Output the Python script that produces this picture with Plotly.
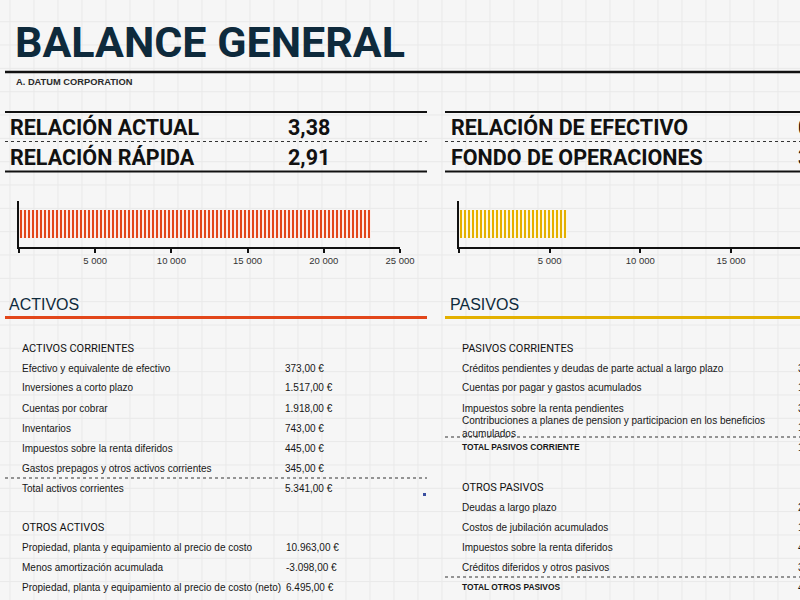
import plotly.graph_objects as go

W, H = 800, 600

titulo = "BALANCE GENERAL"
empresa = "A. DATUM CORPORATION"

ratios_izq = ["RELACIÓN ACTUAL", "RELACIÓN RÁPIDA"]
ratios_izq_valores = ["3,38", "2,91"]
ratios_der = ["RELACIÓN DE EFECTIVO", "FONDO DE OPERACIONES"]
ratios_der_valores = ["0,07", "3.955,00 €"]

grafico_categorias = ["Total activos", "Total pasivos"]
grafico_valores = [23100, 5940]
tick_valores = [0, 5000, 10000, 15000, 20000, 25000]
tick_textos = ["", "5 000", "10 000", "15 000", "20 000", "25 000"]

activos_corrientes = [
    "Efectivo y equivalente de efectivo",
    "Inversiones a corto plazo",
    "Cuentas por cobrar",
    "Inventarios",
    "Impuestos sobre la renta diferidos",
    "Gastos prepagos y otros activos corrientes",
]
activos_corrientes_valores = [373, 1517, 1918, 743, 445, 345]
total_activos_corrientes = 5341

otros_activos = [
    "Propiedad, planta y equipamiento al precio de costo",
    "Menos amortización acumulada",
    "Propiedad, planta y equipamiento al precio de costo (neto)",
]
otros_activos_valores = [10963, -3098, 6495]

pasivos_corrientes = [
    "Créditos pendientes y deudas de parte actual a largo plazo",
    "Cuentas por pagar y gastos acumulados",
    "Impuestos sobre la renta pendientes",
    "Contribuciones a planes de pension y participacion en los beneficios<br>acumulados",
]
pasivos_corrientes_valores = [3456, 1897, 3412, 1532]
total_pasivos_corrientes = 10297

otros_pasivos = [
    "Deudas a largo plazo",
    "Costos de jubilación acumulados",
    "Impuestos sobre la renta diferidos",
    "Créditos diferidos y otros pasivos",
]
otros_pasivos_valores = [2976, 198, 478, 398]
total_otros_pasivos = 4050

ROJO = "#e2461a"
AMARILLO = "#e3b000"
NAVY = "#0e2a3c"
TXT = "#161616"
SANS = "Liberation Sans, Arial, sans-serif"
ROBOTO = "Roboto, Liberation Sans, sans-serif"


def eur(v):
    s = f"{v:,.2f}".replace(",", "X").replace(".", ",").replace("X", ".")
    return s + " €"


annotations = []
shapes = []


def texto(x, y, s, size, color=TXT, family=SANS, bold=False, xanchor="left"):
    annotations.append(
        dict(
            x=x / W, y=1 - y / H, xref="paper", yref="paper", text=s,
            showarrow=False, xanchor=xanchor, yanchor="middle", align="left",
            font=dict(size=size, color=color, family=family,
                      weight="bold" if bold else "normal"),
        )
    )


def linea(x0, x1, y, color="#111111", width=2, dash="solid"):
    shapes.append(
        dict(type="line", xref="paper", yref="paper", x0=x0 / W, x1=x1 / W,
             y0=1 - y / H, y1=1 - y / H, layer="above",
             line=dict(color=color, width=width, dash=dash))
    )


# faint spreadsheet grid
for k in range(33):
    gx = 10 + 24 * k
    shapes.append(dict(type="line", xref="paper", yref="paper", x0=gx / W, x1=gx / W,
                       y0=0, y1=1, layer="below", line=dict(color="#e9e9e9", width=1)))
for k in range(26):
    gy = 21.7 + 23.33 * k
    shapes.append(dict(type="line", xref="paper", yref="paper", x0=0, x1=1,
                       y0=1 - gy / H, y1=1 - gy / H, layer="below",
                       line=dict(color="#e9e9e9", width=1)))

# header
texto(13, 42, titulo, 43, NAVY, ROBOTO, bold=True)
linea(5, 800, 72, width=2.5)
texto(14, 82, empresa, 9.3, "#2a2a2a", SANS, bold=True)

linea(5, 427, 112)
linea(445, 800, 112)
linea(5, 427, 141.5, "#333333", 1, "dot")
linea(445, 800, 141.5, "#333333", 1, "dot")
linea(5, 427, 171.5)
linea(445, 800, 171.5)
for i, y in enumerate([127, 157]):
    texto(8, y, ratios_izq[i], 21.5, "#111111", ROBOTO, bold=True)
    texto(286, y, ratios_izq_valores[i], 21.5, "#111111", ROBOTO, bold=True)
    texto(449, y, ratios_der[i], 21.5, "#111111", ROBOTO, bold=True)
    texto(796, y, ratios_der_valores[i], 21.5, "#111111", ROBOTO, bold=True)

# section headings
texto(7, 304, "ACTIVOS", 16, NAVY, SANS)
linea(5, 427, 317.5, ROJO, 3)
texto(448, 304, "PASIVOS", 16, NAVY, SANS)
linea(445, 800, 317.5, AMARILLO, 3)

# activos table
texto(20, 348, "ACTIVOS CORRIENTES", 11, "#111111", ROBOTO)
for i, (lab, v) in enumerate(zip(activos_corrientes, activos_corrientes_valores)):
    y = 368 + 20 * i
    texto(20, y, lab, 10, TXT)
    texto(283, y, eur(v), 10, TXT)
linea(5, 427, 478, "#333333", 1, "dot")
texto(20, 488, "Total activos corrientes", 10, TXT)
texto(283, 488, eur(total_activos_corrientes), 10, TXT)
shapes.append(dict(type="rect", xref="paper", yref="paper", x0=423 / W, x1=426 / W,
                   y0=1 - 496 / H, y1=1 - 493 / H, fillcolor="#3b4fa0", line_width=0))

texto(20, 527, "OTROS ACTIVOS", 11, "#111111", ROBOTO)
for i, (lab, v) in enumerate(zip(otros_activos, otros_activos_valores)):
    y = 547 + 20 * i
    texto(20, y, lab, 10, TXT)
    texto(284, y, eur(v), 10, TXT)

# pasivos table
texto(460, 348, "PASIVOS CORRIENTES", 11, "#111111", ROBOTO)
for i, (lab, v) in enumerate(zip(pasivos_corrientes, pasivos_corrientes_valores)):
    y = 368 + 20 * i if i < 3 else 427
    texto(460, y, lab, 10, TXT)
    texto(796, y, eur(v), 10, TXT)
linea(445, 800, 437, "#333333", 1, "dot")
texto(460, 447, "TOTAL PASIVOS CORRIENTE", 8.4, TXT, SANS, bold=True)
texto(796, 447, eur(total_pasivos_corrientes), 10, TXT)

texto(460, 487, "OTROS PASIVOS", 11, "#111111", ROBOTO)
for i, (lab, v) in enumerate(zip(otros_pasivos, otros_pasivos_valores)):
    y = 507 + 20 * i
    texto(460, y, lab, 10, TXT)
    texto(796, y, eur(v), 10, TXT)
linea(445, 800, 577, "#333333", 1, "dot")
texto(460, 587, "TOTAL OTROS PASIVOS", 8.4, TXT, SANS, bold=True)
texto(796, 587, eur(total_otros_pasivos), 10, TXT)

fig = go.Figure()
for i, (col, xa, ya) in enumerate([(ROJO, "x", "y"), (AMARILLO, "x2", "y2")]):
    fig.add_trace(
        go.Bar(
            x=[grafico_valores[i]], y=[grafico_categorias[i]], orientation="h",
            xaxis=xa, yaxis=ya, width=0.63, showlegend=False,
            marker=dict(color="white", line_width=0,
                        pattern=dict(shape="|", fgcolor=col, bgcolor="#ffffff",
                                     size=4, solidity=0.55, fillmode="replace")),
        )
    )

eje_x = dict(showline=True, linecolor="#111111", linewidth=2, ticks="outside",
             ticklen=4, tickwidth=1.5, tickcolor="#111111", showgrid=False,
             zeroline=False, tickvals=tick_valores, ticktext=tick_textos,
             tickfont=dict(size=9.5, color="#333333", family=SANS),
             fixedrange=True, automargin=False)
eje_y = dict(showline=True, linecolor="#111111", linewidth=2, showticklabels=False,
             ticks="", showgrid=False, zeroline=False, range=[-0.5, 0.5],
             domain=[1 - 247 / H, 1 - 201 / H], fixedrange=True, automargin=False)

fig.update_layout(
    width=W, height=H,
    autosize=False,
    margin=dict(l=0, r=0, t=0, b=0, autoexpand=False),
    paper_bgcolor="#f6f6f6", plot_bgcolor="rgba(0,0,0,0)",
    xaxis=dict(eje_x, domain=[19 / W, 400 / W], range=[0, 25000], anchor="y"),
    yaxis=dict(eje_y, anchor="x"),
    xaxis2=dict(eje_x, domain=[459 / W, 1.0], range=[0, 18805], anchor="y2"),
    yaxis2=dict(eje_y, anchor="x2"),
    annotations=annotations,
    shapes=shapes,
    bargap=0,
)

fig.write_html(
    "out.html",
    config={"displayModeBar": False},
    post_script="document.body.style.margin = '0px'; document.body.style.overflow = 'hidden';",
)
